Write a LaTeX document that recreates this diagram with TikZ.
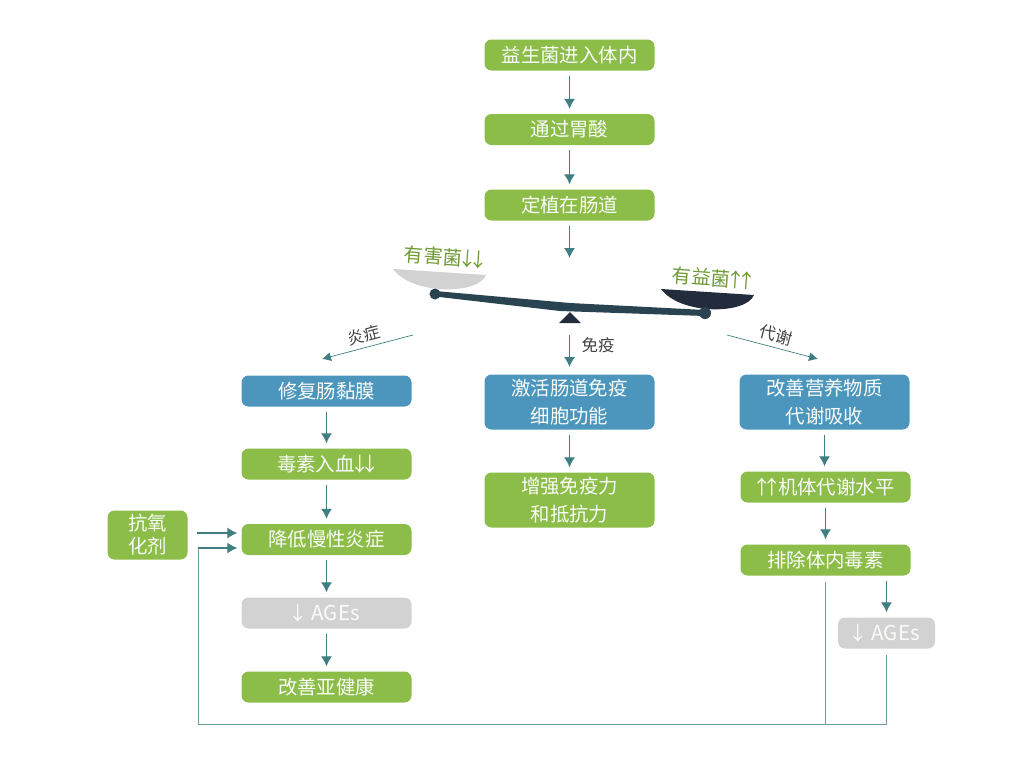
\documentclass[tikz,border=0pt]{standalone}
\usepackage{fontspec}
\setmainfont{Noto Sans CJK SC}
\usepackage[]{xcolor}
\usetikzlibrary{arrows.meta}
\definecolor{leaf}{HTML}{8BBD48}
\definecolor{sea}{HTML}{4C96BE}
\definecolor{ash}{HTML}{D2D2D2}
\definecolor{teal1}{HTML}{3F7F82}
\definecolor{wire}{HTML}{6C9C9E}
\definecolor{olive1}{HTML}{6F9A35}
\definecolor{beam}{HTML}{2A4350}
\definecolor{ink}{HTML}{232C3D}
\newcommand{\dn}{\makebox[.55em]{↓}}
\newcommand{\up}{\makebox[.55em]{↑}}
\newcommand{\ages}{{\fontsize{20.5}{27}\selectfont AGEs}}
\begin{document}
\begin{tikzpicture}[
            x=1pt, y=-1pt,
            box/.style={rectangle, fill=#1, rounded corners=7pt, minimum width=170pt, minimum height=31pt, inner sep=0pt, text=white!96!leaf, font=\fontsize{19.4}{27.5}\selectfont, align=center},
            box/.default=leaf,
            tall/.style={box=#1, minimum height=55pt},
            tall/.default=sea,
            arrow/.style={-{Latex[length=10pt,width=11pt]}, teal1, line width=1.1pt, shorten >=5pt, shorten <=5pt},
            slant/.style={-{Latex[length=9pt,width=9pt]}, teal1, line width=.7pt},
            wireline/.style={wire, line width=1pt},
            tag/.style={text=black!75, font=\fontsize{16.5}{18}\selectfont, inner sep=0pt},
            weight/.style={text=olive1, font=\fontsize{19.4}{21}\selectfont, inner sep=0pt}
        ]
            \useasboundingbox (0,0) rectangle (1022,772);

            \node[box] (enter) at (569.5,55) {益生菌进入体内};
            \node[box, below of=enter, node distance=74.5pt] (acid) {通过胃酸};
            \node[box, below of=acid, node distance=75.5pt] (gut) {定植在肠道};
            \coordinate (scale) at (569.5,263);

            \node[box=sea] (repair) at (326.5,391) {修复肠黏膜};
            \node[box, below of=repair, node distance=73pt] (toxin) {毒素入血\dn\dn};
            \node[box, below of=toxin, node distance=75.5pt] (lower) {降低慢性炎症};
            \node[box=ash, below of=lower, node distance=73.5pt] (agesl) {\dn\hspace{.4em}\ages};
            \node[box, below of=agesl, node distance=74pt] (health) {改善亚健康};
            \node[box, minimum width=80pt, minimum height=49pt, font=\fontsize{19.4}{23}\selectfont] (anti) at (147.5,535) {抗氧\\化剂};

            \node[tall] (immune) at (569.5,402) {激活肠道免疫\\细胞功能};
            \node[tall=leaf, below of=immune, node distance=98pt] (resist) {增强免疫力\\和抵抗力};

            \node[tall] (nutri) at (824.5,402) {改善营养物质\\代谢吸收};
            \node[box] (meta) at (825.5,487) {\up\up 机体代谢水平};
            \node[box, below of=meta, node distance=73pt] (expel) {排除体内毒素};
            \node[box=ash, minimum width=97pt] (agesr) at (886.5,633) {\dn\hspace{.4em}\ages};

            \draw[arrow] (enter) -- (acid);
            \draw[arrow] (acid) -- (gut);
            \draw[arrow] (gut) -- (scale);
            \draw[arrow] (repair) -- (toxin);
            \draw[arrow] (toxin) -- (lower);
            \draw[arrow] (lower) -- (agesl);
            \draw[arrow] (agesl) -- (health);
            \draw[arrow] (immune) -- (resist);
            \draw[arrow] (nutri) -- (nutri |- meta.north);
            \draw[arrow] (meta) -- (expel);
            \draw[arrow] (agesr |- expel.south) -- (agesr);

            % the balance
            \fill[ash] (393,269) -- (486,275) .. controls (478,295) and (412,295) .. (393,269);
            \fill[ink] (661,289) -- (754,295) .. controls (746,315) and (680,315) .. (661,289);
            \fill[ink] (570,312) -- (581,323) -- (559,323) -- cycle;
            \fill[beam] (435,291) -- (570,303) -- (705,310) -- (705,316) -- (560,311) -- (435,296.5) -- cycle;
            \fill[beam] (435,294) circle (5.5pt);
            \fill[beam] (705,313) circle (6pt);
            \node[weight, rotate=-4] (bad) at (444,257) {有害菌\dn\dn};
            \node[weight, rotate=-4] (good) at (712,278) {有益菌\up\up};

            \coordinate (leftin) at (413,335);
            \coordinate (leftout) at (322,359);
            \coordinate (rightin) at (727,335);
            \coordinate (rightout) at (818,359);
            \coordinate (midin) at (569.5,335);
            \coordinate (midout) at (569.5,367);
            \draw[slant] (leftin) -- (leftout);
            \draw[slant] (rightin) -- (rightout);
            \draw[arrow, shorten >=0pt, shorten <=0pt] (midin) -- (midout);
            \node[tag, rotate=15] (fire) at (364,335) {炎症};
            \node[tag, rotate=-15] (metab) at (776,335) {代谢};
            \node[tag] (immu) at (598,345) {免疫};

            \coordinate (in1) at ([yshift=6.5pt]lower.west);
            \coordinate (in2) at ([yshift=-8.5pt]lower.west);
            \coordinate (bottom) at (198,724.5);
            \draw[arrow, shorten <=9pt, shorten >=4pt] (anti.east |- in1) -- (in1);
            \draw[wireline, shorten <=6pt] (agesr.south) -- (agesr |- bottom) -- (bottom) -- (bottom |- in2);
            \draw[arrow, shorten <=0pt, shorten >=4pt] (bottom |- in2) -- (in2);
            \draw[wireline, shorten <=6pt] (expel.south) -- (expel |- bottom);
        \end{tikzpicture}
\end{document}
